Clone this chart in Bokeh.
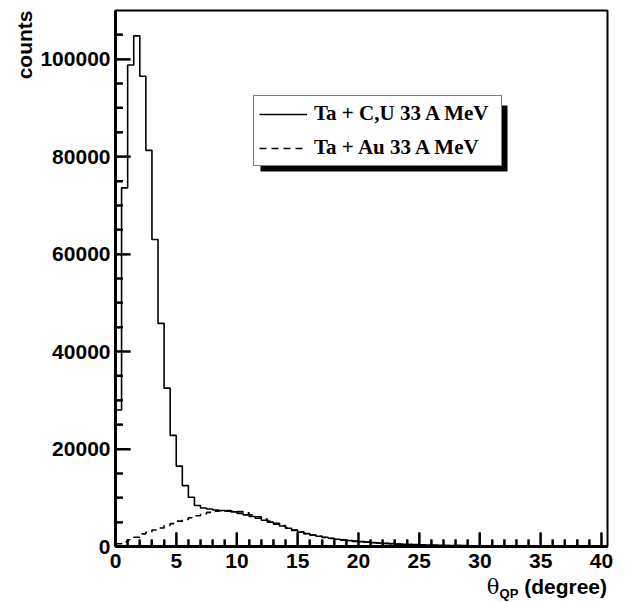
import numpy as np
from bokeh.plotting import figure
from bokeh.models import (Range1d, FixedTicker, NumeralTickFormatter, Legend, LegendItem,
                          Title, Div)
from bokeh.layouts import column
from bokeh.embed import file_html
from bokeh.resources import INLINE

# ---------------- data ----------------
bin_width = 0.5
n_bins = 80
edges = np.arange(n_bins + 1) * bin_width  # 0 .. 40 in steps of 0.5

ta_cu_counts = [
    28000, 73600, 98800, 104800, 96500, 81300, 63000, 45800, 32500, 22800,
    16500, 12500, 10100, 8400, 7900, 7700, 7500, 7400, 7250, 7100,
    6800, 6500, 6150, 5800, 5400, 5000, 4600, 4200, 3750, 3300,
    2950, 2650, 2350, 2100, 1900, 1700, 1500, 1350, 1200, 1100,
    1000, 900, 800, 720, 650, 580, 520, 470, 420, 380,
    340, 300, 270, 245, 220, 200, 185, 170, 155, 145,
    135, 125, 118, 110, 104, 98, 92, 87, 82, 78,
    74, 70, 67, 64, 61, 58, 56, 54, 52, 50,
]
ta_au_counts = [
    550, 950, 1380, 1900, 2600, 2900, 3400, 3800, 4300, 4700,
    5200, 5550, 5900, 6300, 6700, 7000, 7250, 7350, 7400, 7300,
    7150, 6900, 6500, 6100, 5650, 5200, 4750, 4300, 3850, 3400,
    3000, 2650, 2350, 2100, 1850, 1650, 1480, 1320, 1180, 1060,
    950, 860, 770, 690, 620, 560, 500, 450, 405, 365,
    330, 295, 265, 240, 215, 195, 180, 165, 150, 140,
    130, 120, 112, 105, 98, 92, 86, 80, 75, 70,
    66, 62, 58, 55, 52, 49, 46, 44, 42, 40,
]
x_ticks = [0, 5, 10, 15, 20, 25, 30, 35, 40]
x_minor = [m for m in range(0, 41) if m % 5 != 0]
y_ticks = [0, 20000, 40000, 60000, 80000, 100000]
y_minor = [5000 * k for k in range(0, 22) if k % 4 != 0]
label_cu = "Ta + C,U 33 A MeV"
label_au = "Ta + Au 33 A MeV"

# ---------------- layout ----------------
W = 633
FIG_H = 578
FL, FR, FT, FB = 115, 607, 10, 546
XMAX, YMAX = 40.5, 110000
PX_X = XMAX / (FR - FL)      # data units per pixel, x
PX_Y = YMAX / (FB - FT)      # data units per pixel, y

def px2x(px):
    return (px - FL) * PX_X

def py2y(py):
    return (FB - py) * PX_Y

p = figure(width=W, height=FIG_H, output_backend="svg", toolbar_location=None,
           x_range=Range1d(0, XMAX), y_range=Range1d(0, YMAX),
           min_border_left=FL, min_border_right=W - FR,
           min_border_top=FT, min_border_bottom=FIG_H - FB)
p.outline_line_color = "black"
p.outline_line_width = 2
p.xgrid.visible = False
p.ygrid.visible = False

# inward ROOT-style ticks, placed at the tick lists (drawn first)
p.segment(x0=x_ticks, y0=[0] * len(x_ticks), x1=x_ticks, y1=[14 * PX_Y] * len(x_ticks),
          line_color="black", line_width=2)
p.segment(x0=x_minor, y0=[0] * len(x_minor), x1=x_minor, y1=[7 * PX_Y] * len(x_minor),
          line_color="black", line_width=2)
p.segment(x0=[0] * len(y_ticks), y0=y_ticks, x1=[15 * PX_X] * len(y_ticks), y1=y_ticks,
          line_color="black", line_width=2)
p.segment(x0=[0] * len(y_minor), y0=y_minor, x1=[7.5 * PX_X] * len(y_minor), y1=y_minor,
          line_color="black", line_width=2)

# legend drop shadow (drawn as a plain box behind the legend)
LX, LT, LW, LH = 253, 99, 247, 67
p.quad(left=[px2x(LX + 7)], right=[px2x(LX + LW + 7)],
       top=[py2y(LT + 6)], bottom=[py2y(LT + LH + 5)],
       fill_color="black", line_color=None)

ys_cu = list(ta_cu_counts) + [ta_cu_counts[-1]]
ys_au = list(ta_au_counts) + [ta_au_counts[-1]]
r_cu = p.step(x=edges, y=ys_cu, mode="after", line_color="black", line_width=1.6)
r_au = p.step(x=edges, y=ys_au, mode="after", line_color="black", line_width=1.6,
              line_dash="7 5")

for ax in (p.xaxis[0], p.yaxis[0]):
    ax.axis_line_width = 3
    ax.axis_line_color = "black"
    ax.major_tick_line_color = "black"
    ax.minor_tick_line_color = "black"
    ax.major_tick_line_width = 2
    ax.minor_tick_line_width = 2
    ax.major_tick_out = 0
    ax.minor_tick_out = 0
    ax.minor_tick_in = 7
    ax.major_label_text_font = "Liberation Sans"
    ax.major_label_text_font_style = "bold"
    ax.major_label_text_font_size = "21px"
    ax.major_label_text_color = "black"

p.xaxis[0].ticker = FixedTicker(ticks=x_ticks, minor_ticks=x_minor)
p.xaxis[0].major_tick_in = 14
p.xaxis[0].major_label_standoff = 7
p.yaxis[0].ticker = FixedTicker(ticks=y_ticks, minor_ticks=y_minor)
p.yaxis[0].major_tick_in = 15
p.yaxis[0].major_label_standoff = 5
p.yaxis[0].formatter = NumeralTickFormatter(format="0")

# y axis title, top-aligned
p.add_layout(Title(text="counts", align="right", text_font="Liberation Sans",
                   text_font_style="bold", text_font_size="21px", text_color="black",
                   standoff=4), "left")

legend = Legend(items=[LegendItem(label=label_cu, renderers=[r_cu]),
                       LegendItem(label=label_au, renderers=[r_au])],
                location=(LX - FL, FB - (LT + LH)),
                orientation="vertical",
                label_text_font="Liberation Serif", label_text_font_style="bold",
                label_text_font_size="21px", label_text_color="black",
                glyph_width=48, glyph_height=24, label_height=24, label_width=182,
                label_standoff=7, padding=5, spacing=9, margin=0,
                border_line_color="black", border_line_width=1.5,
                background_fill_color="white", background_fill_alpha=1.0)
p.add_layout(legend, "center")

# x axis title with subscript, right-aligned under the axis
xlabel = Div(
    text=('<span style="position:relative;top:-8px">'
          '<span style="font-family:\'DejaVu Serif\';font-weight:normal;'
          'font-size:21px">&theta;</span>'
          '<span style="font-size:13px;position:relative;top:4px">QP</span>'
          ' (degree)</span>'),
    width=602, height=24,
    styles={"font-family": "Liberation Sans", "font-weight": "bold",
            "font-size": "21px", "text-align": "right", "line-height": "24px",
            "color": "black", "white-space": "nowrap"})

layout = column(p, xlabel, spacing=0)
open("out.html", "w").write(file_html(layout, INLINE))
